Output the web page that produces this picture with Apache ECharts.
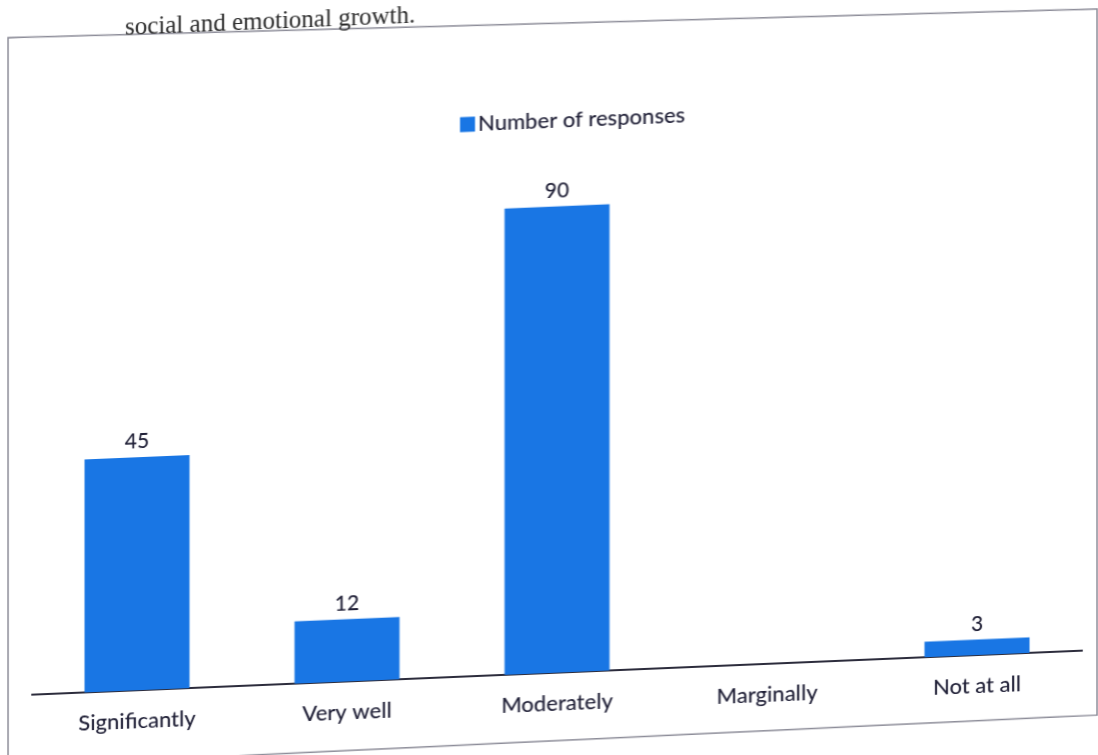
<!DOCTYPE html>
<html>
<head>
<meta charset="utf-8">
<script src="https://cdn.jsdelivr.net/npm/echarts/dist/echarts.min.js"></script>
<style>
  html, body { margin: 0; padding: 0; background: #fff; overflow: hidden; }
  #chart {
    width: 1098px;
    height: 800px;
    /* the reference is a photo of a printout, slightly tilted */
    transform-origin: 0 0;
    transform: skewY(-2.4deg);
  }
</style>
</head>
<body>
<div id="chart"></div>
<script>
const categories = ['Significantly', 'Very well', 'Moderately', 'Marginally', 'Not at all']
const responses = [45, 12, 90, 0, 3]
const seriesName = 'Number of responses'
const caption = 'social and emotional growth.'

const textColor = '#1f1f36'
const barColor = '#1976e4'

var myChart = echarts.init(document.getElementById('chart'))
let option = {
  animation: false,
  title: {
    text: caption,
    left: 120,
    top: 16,
    textStyle: {
      fontFamily: 'Liberation Serif',
      fontSize: 25,
      fontWeight: 'normal',
      color: '#2a2a2a'
    }
  },
  legend: {
    data: [seriesName],
    left: 455,
    top: 128,
    itemWidth: 15,
    itemHeight: 15,
    itemGap: 6,
    icon: 'rect',
    textStyle: {
      fontFamily: 'Lato',
      fontSize: 22,
      fontWeight: 500,
      color: textColor,
      padding: [0, 0, 0, -2]
    }
  },
  grid: {
    left: 32,
    right: 16,
    top: 178,
    bottom: 104
  },
  graphic: [
    {
      type: 'polygon',
      shape: { points: [[8, 38], [1097, 55], [1097, 761], [8, 767]] },
      style: { fill: 'none', stroke: '#8d8d99', lineWidth: 1.5 },
      z: -1
    }
  ],
  xAxis: {
    type: 'category',
    data: categories,
    axisTick: { show: false },
    axisLine: { lineStyle: { color: '#2c2c3c', width: 2 } },
    axisLabel: {
      margin: 20,
      fontFamily: 'Lato',
      fontSize: 22,
      fontWeight: 500,
      color: textColor
    }
  },
  yAxis: {
    type: 'value',
    min: 0,
    max: 100,
    show: false,
    splitLine: { show: false }
  },
  series: [
    {
      name: seriesName,
      type: 'bar',
      data: responses,
      barWidth: 105,
      itemStyle: { color: barColor },
      label: {
        show: true,
        position: 'top',
        distance: 5,
        fontFamily: 'Lato',
        fontSize: 21,
        fontWeight: 500,
        color: textColor,
        formatter: function (p) { return p.value > 0 ? p.value : '' }
      }
    }
  ]
};
myChart.setOption(option);
</script>
</body>
</html>
